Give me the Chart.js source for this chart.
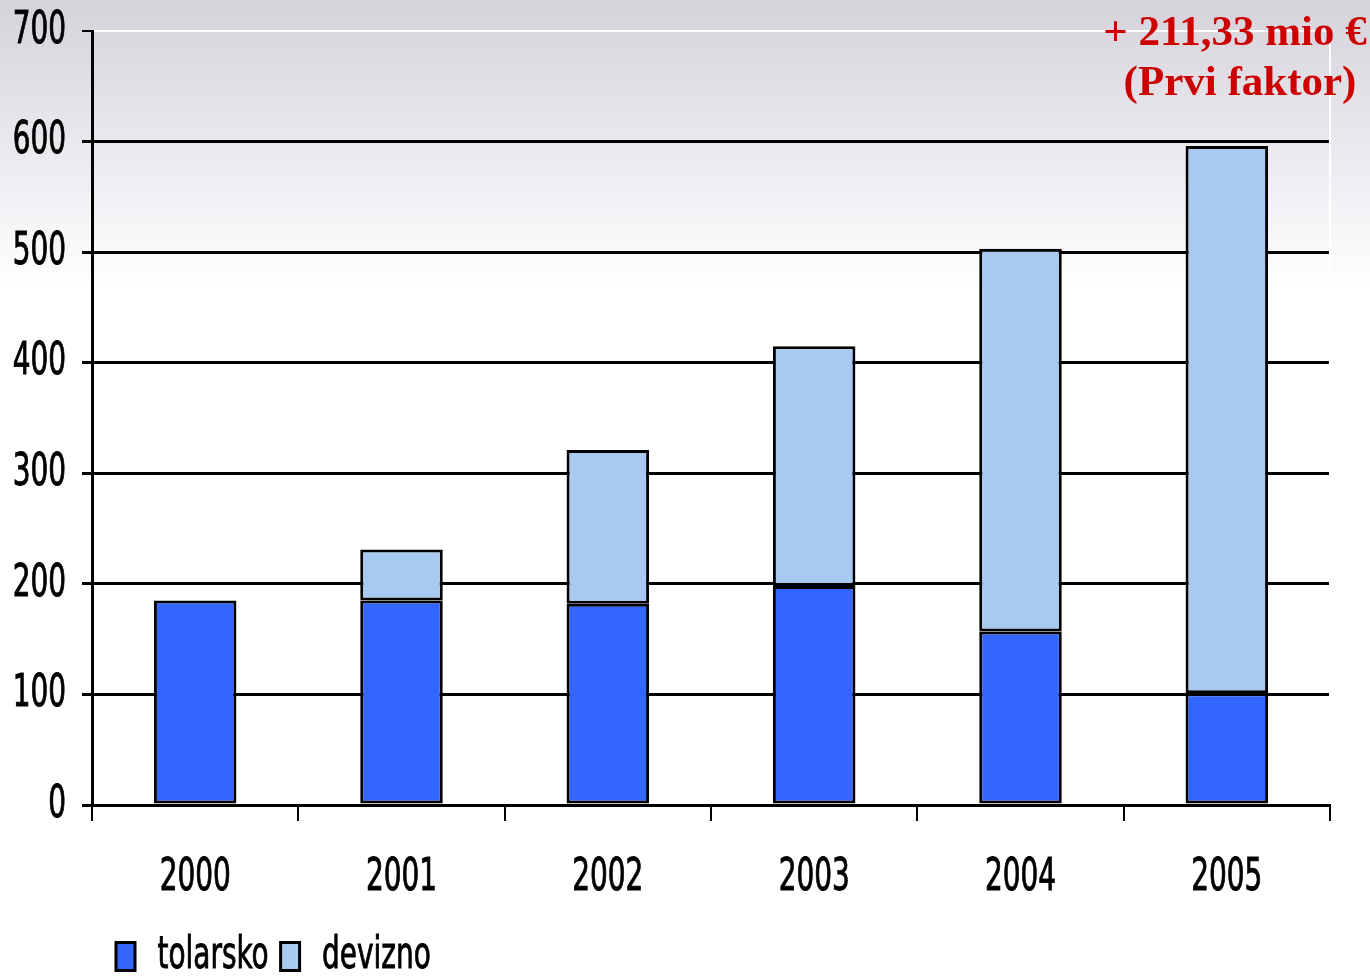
<!DOCTYPE html>
<html>
<head>
<meta charset="utf-8">
<script src="https://cdn.jsdelivr.net/npm/chart.js@4/dist/chart.umd.min.js"></script>
<style>
  html, body { margin: 0; padding: 0; background: #fff; }
  #wrap { width: 1370px; height: 976px; }
</style>
</head>
<body>
<div id="wrap"><canvas id="chart" width="1370" height="976"></canvas></div>
<script>
// Data
const years = ['2000', '2001', '2002', '2003', '2004', '2005'];
const tolarsko = [185, 185, 182, 198, 157, 101];
const devizno = [0, 46, 139, 217, 346, 495];
const yTicks = [0, 100, 200, 300, 400, 500, 600, 700];

const NARROW = 'DejaVu Sans Condensed';
const squeeze = 0.69; // original uses a tall, very narrow sans

const ctx = document.getElementById('chart').getContext('2d');

// squeeze the narrow font horizontally (fillText maxWidth), and report matching widths
const baseFill = ctx.fillText;
const baseStroke = ctx.strokeText;
const baseMeasure = ctx.measureText;
ctx.fillText = function (text, x, y, maxWidth) {
    if (this.font.indexOf(NARROW) >= 0) {
        let w = baseMeasure.call(this, text).width * squeeze;
        if (maxWidth) w = Math.min(w, maxWidth);
        baseFill.call(this, text, x, y, w);
        // a thin stroke to thicken the strokes a little
        this.save();
        this.strokeStyle = this.fillStyle;
        this.lineWidth = 0.9;
        baseStroke.call(this, text, x, y, w);
        this.restore();
        return;
    }
    return maxWidth === undefined ? baseFill.call(this, text, x, y) : baseFill.call(this, text, x, y, maxWidth);
};
ctx.measureText = function (text) {
    const m = baseMeasure.call(this, text);
    if (this.font.indexOf(NARROW) >= 0) return { width: m.width * squeeze };
    return m;
};

const tickFont = { family: "'" + NARROW + "', sans-serif", size: 45, lineHeight: 1.2 };

// background gradient behind everything
const bgPlugin = {
    id: 'bg',
    beforeDraw(chart) {
        const c = chart.ctx;
        const g = c.createLinearGradient(0, 0, 0, 290);
        g.addColorStop(0, '#d6d2da');
        g.addColorStop(0.5, '#ebe8ee');
        g.addColorStop(1, '#ffffff');
        c.save();
        c.fillStyle = g;
        c.fillRect(0, 0, chart.width, chart.height);
        c.restore();
    }
};

// legend sits a bit in from the left edge, near the bottom
const legendShift = {
    id: 'legendShift',
    afterLayout(chart) {
        chart.legend.left = 104;
        chart.legend.top = 922;
        chart.legend.bottom = 976;
    }
};

// white border on the right of the plot area + red annotation
const extrasPlugin = {
    id: 'extras',
    afterDraw(chart) {
        const c = chart.ctx;
        const a = chart.chartArea;
        c.save();
        c.strokeStyle = '#ffffff';
        c.lineWidth = 2;
        c.beginPath();
        c.moveTo(a.right, a.top);
        c.lineTo(a.right, a.bottom - 2);
        c.stroke();

        c.fillStyle = '#cc0000';
        c.font = "bold 43px 'Liberation Serif', 'DejaVu Serif', serif";
        c.textAlign = 'center';
        c.textBaseline = 'alphabetic';
        c.fillText('+ 211,33 mio €', 1235, 45);
        c.fillText('(Prvi faktor)', 1240, 95);
        c.restore();
    }
};

const chart = new Chart(ctx, {
    type: 'bar',
    data: {
        labels: years,
        datasets: [
            {
                label: 'tolarsko',
                data: tolarsko,
                backgroundColor: '#3366ff',
                borderColor: '#000',
                borderWidth: 3,
                borderSkipped: false
            },
            {
                label: 'devizno',
                data: devizno,
                backgroundColor: '#a8caf0',
                borderColor: '#000',
                borderWidth: 3,
                borderSkipped: false
            }
        ]
    },
    options: {
        responsive: false,
        animation: false,
        events: [],
        layout: {
            padding: { top: 31, right: 40, left: 0, bottom: 3 }
        },
        datasets: {
            bar: { barPercentage: 0.8, categoryPercentage: 0.5 }
        },
        scales: {
            x: {
                stacked: true,
                afterFit: s => { s.height = 101; },
                border: { display: true, color: '#000', width: 3 },
                grid: {
                    offset: true,
                    drawOnChartArea: false,
                    drawTicks: true,
                    tickLength: 16,
                    color: '#000',
                    lineWidth: 2
                },
                ticks: {
                    color: '#000',
                    padding: 30,
                    font: tickFont
                }
            },
            y: {
                stacked: true,
                min: 0,
                max: 700,
                afterFit: s => { s.width = 92; },
                afterBuildTicks: s => { s.ticks = yTicks.map(v => ({ value: v })); },
                border: { display: true, color: '#000', width: 3 },
                grid: {
                    color: c => (c.tick && c.tick.value === 700) ? '#ffffff' : '#000',
                    lineWidth: c => (c.tick && c.tick.value === 700) ? 2 : 3,
                    tickLength: 10,
                    tickColor: '#000'
                },
                ticks: {
                    color: '#000',
                    padding: 16,
                    font: { family: tickFont.family, size: 45, lineHeight: 0.4 }
                }
            }
        },
        plugins: {
            legend: {
                position: 'bottom',
                align: 'start',
                labels: {
                    color: '#000',
                    font: tickFont,
                    boxWidth: 19,
                    boxHeight: 28,
                    padding: 12
                }
            },
            tooltip: { enabled: false }
        }
    },
    plugins: [bgPlugin, legendShift, extrasPlugin]
});
</script>
</body>
</html>
